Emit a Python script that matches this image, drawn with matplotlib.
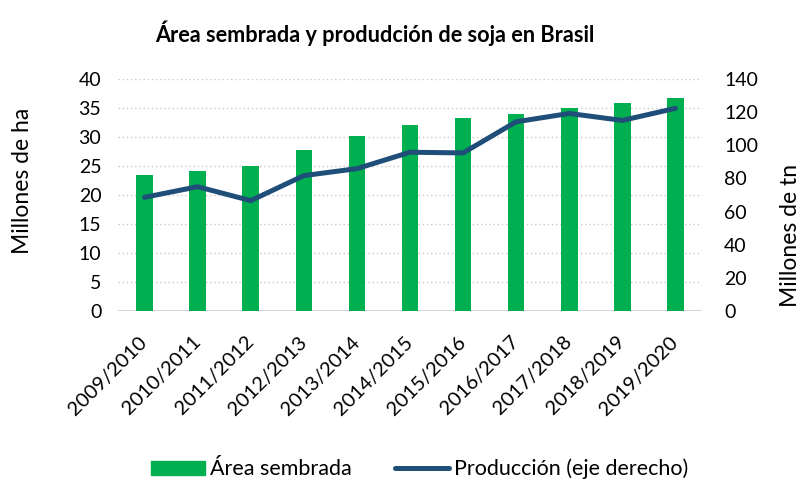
"""Área sembrada y producción de soja en Brasil"""

import matplotlib
matplotlib.use("Agg")
from matplotlib import pyplot as plt
from matplotlib import transforms
from matplotlib.patches import Patch
from matplotlib.lines import Line2D

campanas = ["2009/2010", "2010/2011", "2011/2012", "2012/2013", "2013/2014",
            "2014/2015", "2015/2016", "2016/2017", "2017/2018", "2018/2019",
            "2019/2020"]
area_sembrada = [23.4, 24.2, 25.0, 27.7, 30.1, 32.0, 33.2, 33.9, 35.0, 35.9, 36.8]
produccion = [68.6, 75.0, 66.6, 81.7, 85.9, 95.8, 95.4, 114.2, 119.2, 115.0, 122.3]

verde = "#00B050"
azul = "#1F4E79"

plt.rcParams["font.family"] = ["Lato", "DejaVu Sans"]

fig = plt.figure(figsize=(8.03, 4.8), dpi=100)
ax = fig.add_axes([118 / 803, 1 - 311 / 480, 584 / 803, 232 / 480])
ax2 = ax.twinx()

x = list(range(len(campanas)))
ax.bar(x, area_sembrada, width=0.31, color=verde, zorder=2)
ax2.plot(x, produccion, color=azul, linewidth=3.6, solid_capstyle="round", zorder=3)

# Ejes
ax.set_xlim(-0.5, len(campanas) - 0.5)
ax.set_ylim(0, 40)
ax.set_yticks(range(0, 41, 5))
ax2.set_ylim(0, 140)
ax2.set_yticks(range(0, 141, 20))

ax.yaxis.grid(True, linestyle=(0, (1, 2)), color="#C8C8C8", linewidth=1, zorder=0)
ax.set_axisbelow(True)

for a in (ax, ax2):
    for side in ("top", "left", "right", "bottom"):
        a.spines[side].set_visible(False)
ax.axhline(0, color="#D0D0D0", linewidth=1.2, zorder=1)

ax.set_xticks(x)
ax.set_xticklabels(campanas, rotation=45, ha="right", rotation_mode="anchor")
ax.tick_params(axis="x", length=0, labelsize=14.5, pad=16)
ax.tick_params(axis="y", length=0, labelsize=14, pad=12)
ax2.tick_params(axis="y", length=0, labelsize=14, pad=16)
shift = transforms.ScaledTranslation(-6 / 100, 0, fig.dpi_scale_trans)
for lbl in ax.get_xticklabels():
    lbl.set_transform(lbl.get_transform() + shift)

fig.text(23 / 803, 1 - 181 / 480, "Millones de ha", rotation=90, fontsize=16.5,
         ha="center", va="center")
fig.text(791 / 803, 1 - 235 / 480, "Millones de tn", rotation=90, fontsize=16.5,
         ha="center", va="center")

fig.text(375 / 803, 1 - 33 / 480, "Área sembrada y produdción de soja en Brasil",
         fontsize=15.6, fontweight="bold", ha="center", va="center")

handles = [Patch(facecolor=verde, edgecolor=verde),
           Line2D([0], [0], color=azul, linewidth=3.6, solid_capstyle="round")]
fig.legend(handles, ["Área sembrada", "Producción (eje derecho)"],
           loc="center", bbox_to_anchor=(420 / 803, 1 - 469 / 480), ncol=2,
           frameon=False, fontsize=15.5, handlelength=2.5, handleheight=0.65,
           handletextpad=0.25, columnspacing=2.0, borderpad=0)

fig.savefig("out.png", dpi=100)
